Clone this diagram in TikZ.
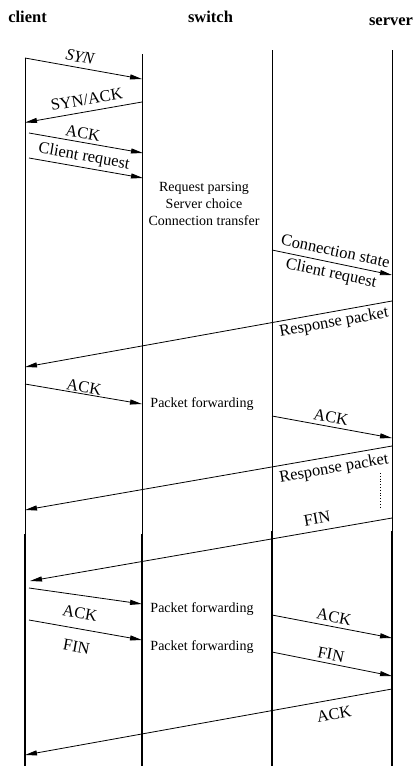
\documentclass[tikz,border=0pt]{standalone}
\usepackage{fontspec}
\setmainfont{Liberation Serif}
\usetikzlibrary{arrows.meta}
\begin{document}
\begin{tikzpicture}[x=1pt,y=-1pt,
  life/.style={line width=0.8pt},
  lifelow/.style={line width=1.4pt},
  msg/.style={line width=0.8pt,-{Triangle[length=12pt,width=5pt]}},
  lbl/.style={inner sep=0pt,font=\fontsize{16.5}{18}\selectfont},
  note/.style={inner sep=0pt,align=center,font=\fontsize{14}{16.7}\selectfont},
  head/.style={inner sep=0pt,anchor=base,font=\fontsize{16.5}{18}\selectfont\bfseries}]
\useasboundingbox (0,0) rectangle (417,766);
% headers
\node[head] (hc) at (27.5,22) {client};
\node[head] (hs) at (210.5,22) {switch};
\node[head] (hv) at (391,25.5) {server};
% lifelines
\coordinate (ct) at (25,58);   \coordinate (cm) at (25,534); \coordinate (cb) at (25,766);
\coordinate (st) at (142,54);  \coordinate (sm) at (142,534); \coordinate (sb) at (142,766);
\coordinate (tt) at (272,50);  \coordinate (tm) at (272,531); \coordinate (tb) at (272,766);
\coordinate (vt) at (392,50);  \coordinate (vm) at (392,531); \coordinate (vb) at (392,766);
\draw[life] (ct) -- (cm); \draw[lifelow] (cm) -- (cb);
\draw[life] (st) -- (sm); \draw[lifelow] (sm) -- (sb);
\draw[life] (tt) -- (tm); \draw[lifelow] (tm) -- (tb);
\draw[life] (vt) -- (vm); \draw[lifelow] (vm) -- (vb);
% message end points
\coordinate (a1s) at (25,58);   \coordinate (a1e) at (142,79);
\coordinate (a2s) at (142,102); \coordinate (a2e) at (25,122.5);
\coordinate (a3s) at (29,133);  \coordinate (a3e) at (143,153);
\coordinate (a4s) at (29,158);  \coordinate (a4e) at (143,178);
\coordinate (a5s) at (272,250); \coordinate (a5e) at (392,275);
\coordinate (a6s) at (392,301); \coordinate (a6e) at (25,367);
\coordinate (a7s) at (25,384);  \coordinate (a7e) at (142,404);
\coordinate (a8s) at (272,416); \coordinate (a8e) at (392,438);
\coordinate (a9s) at (392,446); \coordinate (a9e) at (25,510);
\coordinate (a10s) at (392,518); \coordinate (a10e) at (30,581);
\coordinate (a11s) at (29,588); \coordinate (a11e) at (142,604);
\coordinate (a12s) at (29,620); \coordinate (a12e) at (142,640);
\coordinate (a13s) at (272,615); \coordinate (a13e) at (392,638);
\coordinate (a14s) at (272,652); \coordinate (a14e) at (392,676);
\coordinate (a15s) at (392,689); \coordinate (a15e) at (25,755);
\foreach \i in {1,...,15}{\draw[msg] (a\i s) -- (a\i e);}
% labels
\node[lbl,rotate=-10.2] (l1) at (80,57) {\itshape SYN};
\node[lbl,rotate=9.7] (l2) at (86.7,99.5) {SYN/ACK};
\node[lbl,rotate=-10] (l3) at (83,133) {ACK};
\node[lbl,rotate=-10] (l4) at (84,157) {Client request};
\node[lbl,rotate=-11.8] (l5) at (335.5,251) {Connection state};
\node[lbl,rotate=-11.8] (l6) at (331,274) {Client request};
\node[lbl,rotate=10.2] (l7) at (334,323) {Response packet};
\node[lbl,rotate=-9.7] (l8) at (84,387) {ACK};
\node[lbl,rotate=-10.4] (l9) at (331,417) {ACK};
\node[lbl,rotate=9.9] (l10) at (334,469) {Response packet};
\node[lbl,rotate=9.9] (l11) at (317,518.5) {FIN};
\node[lbl,rotate=-10] (l12) at (80,613.5) {ACK};
\node[lbl,rotate=-10] (l13) at (76.5,646.5) {FIN};
\node[lbl,rotate=-10.9] (l14) at (334,617) {ACK};
\node[lbl,rotate=-11.3] (l15) at (331,654.5) {FIN};
\node[lbl,rotate=10.2] (l16) at (334,714) {ACK};
% switch notes
\node[note] (n1) at (204,204) {Request parsing\\Server choice\\Connection transfer};
\node[note] (n2) at (202,404) {Packet forwarding};
\node[note] (n3) at (202,609) {Packet forwarding};
\node[note] (n4) at (202,647) {Packet forwarding};
% dots
\coordinate (d1) at (380,473); \coordinate (d2) at (380,507);
\draw[line width=0.8pt,dotted] (d1) -- (d2);
\end{tikzpicture}
\end{document}
